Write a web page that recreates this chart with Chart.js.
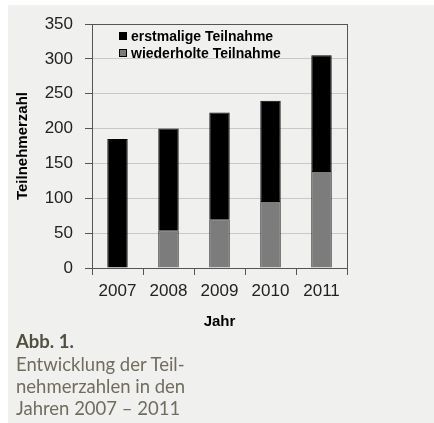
<!DOCTYPE html>
<html>
<head>
<meta charset="utf-8">
<script src="https://cdn.jsdelivr.net/npm/chart.js@4.4.1/dist/chart.umd.min.js"></script>
<style>
  html, body { margin: 0; padding: 0; background: #fff; }
  body { width: 434px; height: 423px; position: relative; overflow: hidden; }
  .panel { position: absolute; left: 8px; top: 5px; right: 0; bottom: 0; background: #f0f0ee; }
  .chart-box { position: absolute; left: 0; top: 0; width: 434px; height: 334px; }
  .legend { position: absolute; left: 119px; top: 27px; font: bold 14px "Liberation Sans", Arial, sans-serif; color: #000; }
  .legend-item { display: flex; align-items: center; height: 17.6px; }
  .legend-box { width: 6px; height: 6px; border: 1px solid #000; margin-right: 4px; }
  .caption { position: absolute; left: 16px; top: 330px; font: 18.5px Lato, "Open Sans", sans-serif; line-height: 22px; color: #716d5e; }
  .caption .title { font-weight: bold; color: #54503f; margin-bottom: 1px; }
</style>
</head>
<body>
<div class="panel"></div>
<div class="chart-box"><canvas id="chart"></canvas></div>
<div class="legend" id="legend"></div>
<div class="caption">
  <div class="title">Abb. 1.</div>
  Entwicklung der Teil-<br>
  nehmerzahlen in den<br>
  Jahren 2007 – 2011
</div>
<script>
'use strict';

// Teilnehmerzahlen
const years = ['2007', '2008', '2009', '2010', '2011'];
const firstTime = [185, 146, 153, 144, 166];
const repeated = [0, 54, 70, 96, 139];
const seriesNames = ['erstmalige Teilnahme', 'wiederholte Teilnahme'];

const COLORS = {
  first: '#000000',
  repeated: '#7c7c7c',
  frame: '#555555',
  grid: '#c9c9c9',
};

// Rahmen um die Zeichenfläche
const framePlugin = {
  id: 'frame',
  afterDraw(chart) {
    const { ctx, chartArea: a } = chart;
    ctx.save();
    ctx.strokeStyle = COLORS.frame;
    ctx.lineWidth = 1;
    ctx.strokeRect(Math.round(a.left) + 0.5, Math.round(a.top) + 0.5,
      Math.round(a.right - a.left), Math.round(a.bottom - a.top));
    ctx.restore();
  },
};

const tickFont = { family: '"Liberation Sans", Arial, sans-serif', size: 17 };
const titleFont = { family: '"Liberation Sans", Arial, sans-serif', size: 15, weight: 'bold' };

new Chart(document.getElementById('chart'), {
  type: 'bar',
  data: {
    labels: years,
    datasets: [
      {
        label: seriesNames[1],
        data: repeated,
        backgroundColor: COLORS.repeated,
        borderColor: '#000',
        borderWidth: 1,
      },
      {
        label: seriesNames[0],
        data: firstTime,
        backgroundColor: COLORS.first,
        borderColor: '#000',
        borderWidth: 1,
      },
    ],
  },
  options: {
    responsive: true,
    maintainAspectRatio: false,
    animation: false,
    devicePixelRatio: 1,
    datasets: { bar: { categoryPercentage: 1, barPercentage: 0.4 } },
    layout: { padding: { top: 24, right: 87, left: 0, bottom: 0 } },
    plugins: {
      legend: { display: false },
      tooltip: { enabled: false },
    },
    scales: {
      x: {
        stacked: true,
        afterFit: (axis) => { axis.height = 66; },
        border: { display: false },
        grid: { drawOnChartArea: false, tickLength: 7, tickColor: COLORS.frame, offset: true },
        ticks: { color: '#222', font: tickFont, padding: 6 },
        title: { display: true, text: 'Jahr', color: '#000', font: titleFont, padding: { top: 0, bottom: 3 } },
      },
      y: {
        stacked: true,
        min: 0,
        max: 350,
        afterFit: (axis) => { axis.width = 92; },
        border: { display: false },
        grid: { color: COLORS.grid, tickLength: 7, tickColor: COLORS.frame },
        ticks: { stepSize: 50, color: '#222', font: tickFont, padding: 12 },
        title: { display: true, text: 'Teilnehmerzahl', color: '#000', font: titleFont, padding: { top: 14, bottom: 0 } },
      },
    },
  },
  plugins: [framePlugin],
});

// Legende in der Zeichenfläche (erstmalige zuerst)
const legendItems = [
  { name: seriesNames[0], color: COLORS.first },
  { name: seriesNames[1], color: COLORS.repeated },
];
document.getElementById('legend').innerHTML = legendItems.map(item => `
  <div class="legend-item">
    <span class="legend-box" style="background:${item.color};"></span>${item.name}
  </div>
`).join('');
</script>
</body>
</html>
